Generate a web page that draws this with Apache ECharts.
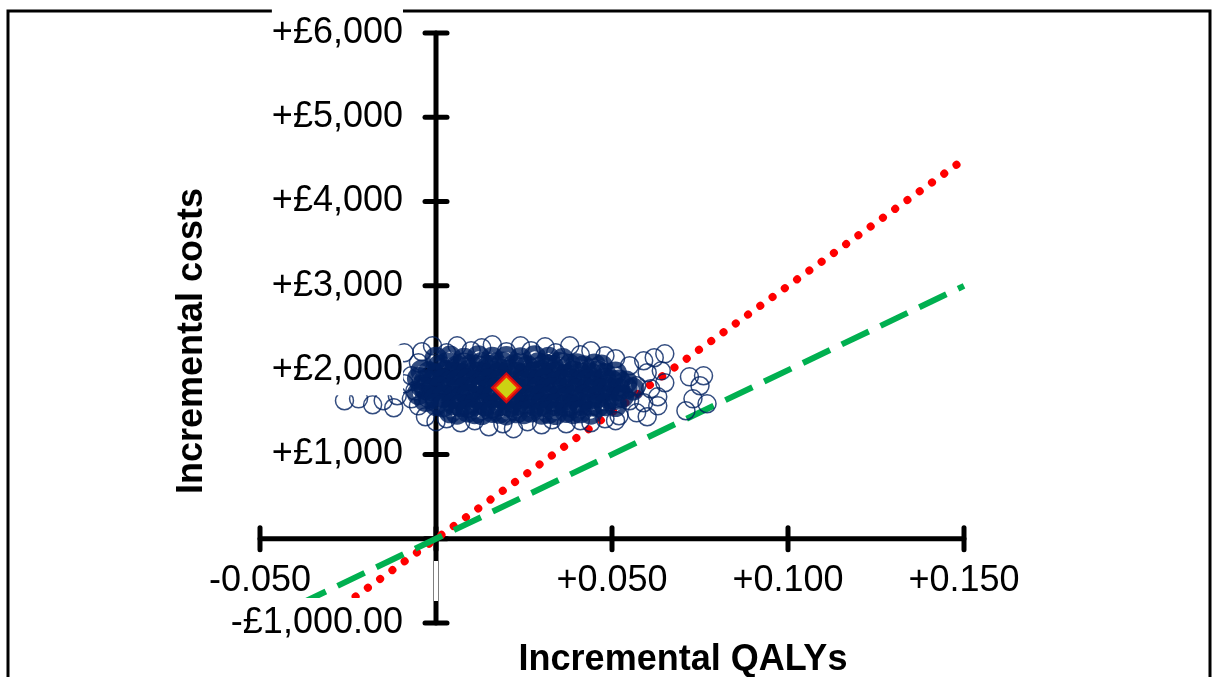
<!DOCTYPE html>
<html>
<head>
<meta charset="utf-8">
<title>Cost-effectiveness plane</title>
<script src="https://cdn.jsdelivr.net/npm/echarts@6/dist/echarts.min.js"></script>
<style>
  html, body { margin: 0; padding: 0; background: #fff; }
  #chart { width: 1216px; height: 677px; }
</style>
</head>
<body>
<div id="chart"></div>
<script>
  // axis ticks and labels
  var xTicks = [-0.05, 0, 0.05, 0.1, 0.15];
  var xTickLabels = ['-0.050', '', '+0.050', '+0.100', '+0.150'];
  var yTicks = [-1000, 0, 1000, 2000, 3000, 4000, 5000, 6000];
  var yTickLabels = ['-£1,000.00', '', '+£1,000', '+£2,000', '+£3,000', '+£4,000', '+£5,000', '+£6,000'];

  // willingness-to-pay lines (QALY, cost)
  var wtp30000 = [[-0.0333, -1000], [0.15, 4500]];
  var wtp20000 = [[-0.05, -1000], [0.15, 3000]];

  // mean of the simulations
  var meanPoint = [[0.020, 1790]];

  // dense centre of the simulation cloud (QALY, cost)
  var cloudCore = [
    [0.000,2140],[0.004,2155],[0.008,2130],[0.012,2160],[0.016,2140],[0.020,2150],[0.024,2135],[0.028,2160],[0.032,2140],[0.036,2125],
    [-0.004,1990],[-0.005,1900],[-0.004,1810],[-0.005,1720],[-0.003,1640],
    [0.001,2050],[0.003,2075],[0.006,2040],[0.008,2070],[0.010,2055],[0.013,2080],[0.015,2045],[0.017,2065],[0.019,2085],[0.022,2050],[0.024,2070],
    [0.026,2040],[0.029,2075],[0.031,2060],[0.033,2045],[0.035,2080],[0.038,2055],[0.040,2065],[0.042,2040],[0.045,2060],[0.047,2050],
    [-0.002,1970],[0.000,1945],[0.003,1985],[0.005,1960],[0.007,1950],[0.009,1980],[0.012,1965],[0.014,1940],[0.016,1975],[0.018,1955],[0.021,1990],[0.023,1960],
    [0.025,1945],[0.028,1970],[0.030,1985],[0.032,1950],[0.034,1965],[0.037,1940],[0.039,1975],[0.041,1960],[0.044,1955],[0.046,1980],[0.048,1950],[0.051,1965],
    [-0.003,1875],[-0.001,1860],[0.002,1880],[0.004,1855],[0.006,1870],[0.009,1890],[0.011,1865],[0.013,1850],[0.015,1880],[0.018,1870],[0.020,1860],[0.022,1885],[0.025,1855],
    [0.027,1875],[0.029,1865],[0.031,1890],[0.034,1850],[0.036,1870],[0.038,1880],[0.041,1860],[0.043,1875],[0.045,1855],[0.048,1885],[0.050,1865],[0.052,1870],[0.054,1860],
    [-0.003,1780],[-0.001,1765],[0.001,1790],[0.004,1770],[0.006,1760],[0.008,1785],[0.011,1775],[0.013,1795],[0.015,1765],[0.017,1780],[0.020,1770],[0.022,1790],[0.024,1760],[0.027,1775],
    [0.029,1785],[0.031,1765],[0.033,1780],[0.036,1770],[0.038,1795],[0.040,1760],[0.043,1775],[0.045,1785],[0.047,1765],[0.049,1780],[0.052,1770],[0.054,1790],[0.056,1775],
    [-0.002,1685],[0.000,1670],[0.002,1690],[0.005,1675],[0.007,1665],[0.009,1695],[0.012,1680],[0.014,1660],[0.016,1685],[0.019,1675],[0.021,1690],[0.023,1670],[0.026,1680],
    [0.028,1665],[0.030,1695],[0.032,1675],[0.035,1685],[0.037,1660],[0.039,1680],[0.042,1690],[0.044,1670],[0.046,1685],[0.049,1675],[0.051,1665],[0.053,1690],
    [0.000,1590],[0.002,1575],[0.005,1600],[0.007,1580],[0.009,1570],[0.011,1595],[0.014,1585],[0.016,1565],[0.018,1590],[0.021,1580],[0.023,1600],[0.025,1570],
    [0.028,1585],[0.030,1595],[0.032,1575],[0.034,1590],[0.037,1580],[0.039,1565],[0.041,1595],[0.044,1585],[0.046,1575],[0.048,1590],[0.051,1580],
    [0.004,1505],[0.006,1490],[0.009,1515],[0.011,1495],[0.013,1485],[0.016,1510],[0.018,1500],[0.020,1480],[0.023,1505],
    [0.025,1495],[0.027,1515],[0.030,1490],[0.032,1500],[0.034,1485],[0.037,1510],[0.039,1495],[0.041,1505],[0.044,1490]
  ];

  // scattered simulations around the edge of the cloud
  var cloudEdge = [
    [-0.001,2289],[0.003,2206],[0.006,2289],[0.010,2230],[0.013,2265],[0.016,2301],[0.020,2218],[0.024,2289],
    [0.027,2230],[0.031,2277],[0.034,2206],[0.038,2289],[0.041,2182],[0.044,2230],[0.048,2170],[0.051,2135],
    [0.055,2052],[0.059,2111],[0.062,2147],[0.065,2194],[0.060,1969],[0.064,1992],[0.057,1815],[0.061,1779],
    [0.065,1850],[0.055,1637],[0.059,1613],[0.063,1684],[0.052,1459],[0.057,1494],[0.060,1447],[0.063,1577],
    [0.071,1518],[0.073,1660],[0.075,1815],[0.076,1933],[0.072,1921],[0.077,1601],
    [0.003,1423],[0.007,1376],[0.011,1400],[0.015,1328],[0.019,1364],[0.022,1305],[0.026,1388],[0.030,1352],
    [0.033,1411],[0.037,1364],[0.041,1400],[0.044,1376],[0.048,1423],[0.051,1400],
    [-0.005,2087],[-0.007,1933],[-0.006,1755],[-0.005,1577],[-0.007,1660],[-0.009,1838],[-0.011,1696],[-0.012,1554],
    [-0.015,1637],[-0.018,1589],[-0.022,1660],[-0.026,1637],[-0.013,2147],[-0.009,2206],[-0.004,2218],[-0.003,1447],[0.000,1388]
  ];

  var chart = echarts.init(document.getElementById('chart'));
  var font = 'Liberation Sans, Arial, sans-serif';

  // axes cross at zero, with ticks across the line
  function renderAxes(params, api) {
    var children = [];
    var top = api.coord([0, yTicks[yTicks.length - 1]]);
    var bot = api.coord([0, yTicks[0]]);
    var left = api.coord([xTicks[0], 0]);
    var right = api.coord([xTicks[xTicks.length - 1], 0]);
    var st = {stroke: '#000', lineWidth: 5, lineCap: 'round'};
    children.push({type: 'line', shape: {x1: top[0], y1: top[1], x2: bot[0], y2: bot[1]}, style: st});
    children.push({type: 'line', shape: {x1: left[0], y1: left[1], x2: right[0], y2: right[1]}, style: st});
    yTicks.forEach(function (v) {
      var p = api.coord([0, v]);
      children.push({type: 'line', shape: {x1: p[0] - 11, y1: p[1], x2: p[0] + 11, y2: p[1]}, style: st});
    });
    xTicks.forEach(function (v) {
      var p = api.coord([v, 0]);
      children.push({type: 'line', shape: {x1: p[0], y1: p[1] - 11, x2: p[0], y2: p[1] + 11}, style: st});
    });
    return {type: 'group', children: children};
  }

  var option = {
    animation: false,
    backgroundColor: '#fff',
    grid: {left: 260, right: 252, top: 33, bottom: 54, containLabel: false, outerBoundsMode: 'none'},
    graphic: [
      {type: 'rect', z: 0, shape: {x: 8, y: 11, width: 1202, height: 700},
        style: {fill: 'none', stroke: '#000', lineWidth: 3}},
      {type: 'text', x: 683, y: 660, z: 20,
        style: {text: 'Incremental QALYs', font: 'bold 36px ' + font, fill: '#000', align: 'center', verticalAlign: 'middle'}},
      {type: 'text', x: 192, y: 341, rotation: Math.PI / 2, z: 20,
        style: {text: 'Incremental costs', font: 'bold 36px ' + font, fill: '#000', align: 'center', verticalAlign: 'middle'}}
    ],
    xAxis: {
      type: 'value', min: -0.05, max: 0.15, interval: 0.05, z: 10,
      offset: -85, // x axis sits on cost = 0
      axisLine: {show: false, onZero: false},
      axisTick: {show: false},
      splitLine: {show: false},
      axisLabel: {
        margin: 23, fontSize: 36, lineHeight: 40, fontFamily: font, color: '#000',
        formatter: function (v) {
          if (Math.abs(v) < 1e-9) return '{gap| }';
          var i = xTicks.findIndex(function (t) { return Math.abs(t - v) < 1e-9; });
          return i < 0 ? '' : xTickLabels[i];
        },
        rich: {gap: {width: 2, height: 40, backgroundColor: '#fff', padding: [0, 0, 0, 2]}}
      }
    },
    yAxis: {
      type: 'value', min: -1000, max: 6000, interval: 1000, z: 10,
      offset: -176, // y axis sits on QALY = 0
      axisLine: {show: false, onZero: false},
      axisTick: {show: false},
      splitLine: {show: false},
      axisLabel: {
        margin: 33, fontSize: 36, lineHeight: 40, fontFamily: font, color: '#000',
        backgroundColor: '#fff', padding: [5, 0, 5, 0],
        formatter: function (v) {
          var i = yTicks.indexOf(Math.round(v));
          return i < 0 ? '' : yTickLabels[i];
        }
      }
    },
    series: [
      {
        type: 'custom', z: 1, silent: true, clip: false,
        data: [[0, 0]],
        renderItem: renderAxes
      },
      {
        name: '£30,000 per QALY', type: 'line', z: 2, silent: true,
        data: wtp30000, symbol: 'none',
        lineStyle: {color: '#ff0000', width: 8, type: [0.1, 15], cap: 'round'}
      },
      {
        name: '£20,000 per QALY', type: 'line', z: 2, silent: true,
        data: wtp20000, symbol: 'none',
        lineStyle: {color: '#00b050', width: 6, type: [30, 13], cap: 'butt'}
      },
      {
        name: 'Simulations', type: 'scatter', z: 3, silent: true,
        data: cloudCore, symbol: 'circle', symbolSize: 17,
        itemStyle: {color: 'rgba(0,0,0,0)', borderColor: '#002060', borderWidth: 6}
      },
      {
        name: 'Simulations edge', type: 'scatter', z: 3, silent: true,
        data: cloudEdge, symbol: 'circle', symbolSize: 18,
        itemStyle: {color: 'rgba(0,0,0,0)', borderColor: '#002060', borderWidth: 1.5}
      },
      {
        name: 'Mean', type: 'scatter', z: 4, silent: true,
        data: meanPoint, symbol: 'diamond', symbolSize: 26,
        itemStyle: {color: '#ffff00', borderColor: '#ff0000', borderWidth: 4}
      }
    ]
  };

  chart.setOption(option, true);
</script>
</body>
</html>
